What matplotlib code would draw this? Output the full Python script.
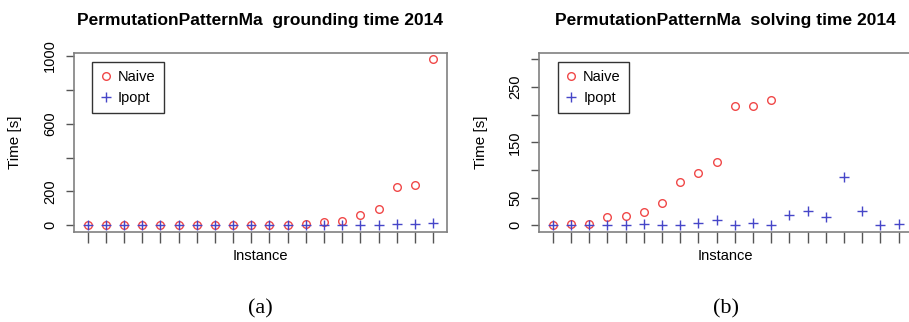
import matplotlib
matplotlib.use('Agg')
import matplotlib.pyplot as plt
import numpy as np

#font setup
plt.rcParams['font.family'] = ['Liberation Sans', 'DejaVu Sans']

#data (20 instances)
instances = np.arange(1, 21)
ground_naive = [0, 0, 0, 0, 0, 0, 0, 0, 0, 0, 0, 0, 10, 18, 28, 59, 94, 228, 236, 980]
ground_ipopt = [0, 0, 0, 0, 0, 0, 0, 0, 0, 0, 0, 0, 0, 0, 0, 0, 0, 8, 8, 16]
solve_naive = [0, 3, 3, 16, 17, 25, 40, 79, 95, 115, 216, 216, 226]
solve_ipopt = [0, 1, 1, 0, 0, 3, 0, 0, 4, 10, 0, 5, 1, 19, 26, 15, 88, 26, 0, 3]

ground_ticks = [0, 200, 400, 600, 800, 1000]
ground_labels = ['0', '200', '', '600', '', '1000']
solve_ticks = [0, 50, 100, 150, 200, 250, 300]
solve_labels = ['0', '50', '', '150', '', '250', '']

titles = ['PermutationPatternMa  grounding time 2014',
          'PermutationPatternMa  solving time 2014']

red = '#F04848'
blue = '#4646C8'
gray = '#808080'

fig = plt.figure(figsize=[9.09, 3.22], dpi=100)
ax1 = fig.add_axes([0.0811, 0.2795, 0.4107, 0.5568])
ax2 = fig.add_axes([0.593, 0.2795, 0.4107, 0.5568])

def setup(ax, naive, ipopt, ticks, labels, ylim, title, tag):
  ax.plot(instances[:len(naive)], naive, 'o', mfc='none', mec=red, ms=5.5, mew=1, label='Naive')
  ax.plot(instances, ipopt, '+', color=blue, ms=6.5, mew=1, label='Ipopt')
  ax.set_xlim(1 - 0.76, 20 + 0.76)
  ax.set_ylim(ylim)
  ax.set_xticks(instances)
  ax.set_xticklabels([])
  ax.set_yticks(ticks)
  ax.set_yticklabels(labels, rotation=90, va='center', fontsize=10.5)
  ax.tick_params(axis='x', length=8, width=1, color='#555555')
  ax.tick_params(axis='y', length=6, width=1, color='#555555', pad=6)
  for s in ax.spines.values():
    s.set_color(gray)
    s.set_linewidth(1.2)
  ax.set_xlabel('Instance', fontsize=10.5, labelpad=1)
  ax.set_ylabel('Time [s]', fontsize=11, labelpad=15)
  ax.set_title(title, fontsize=12.5, fontweight='bold', pad=20)
  leg = ax.legend(loc='upper left', bbox_to_anchor=(0.05, 0.95), borderaxespad=0,
                  fancybox=False, edgecolor='#333333', fontsize=10.5, handlelength=0.7,
                  handletextpad=0.5, borderpad=0.55, labelspacing=0.5, framealpha=1)
  leg.get_frame().set_linewidth(1)
  ax.text(0.5, -0.43, tag, transform=ax.transAxes, ha='center', va='center',
          fontsize=16, family='Liberation Serif')

setup(ax1, ground_naive, ground_ipopt, ground_ticks, ground_labels, (-39.2, 1019.2), titles[0], '(a)')
setup(ax2, solve_naive, solve_ipopt, solve_ticks, solve_labels, (-12, 312), titles[1], '(b)')

plt.savefig('out.png', dpi=100)
